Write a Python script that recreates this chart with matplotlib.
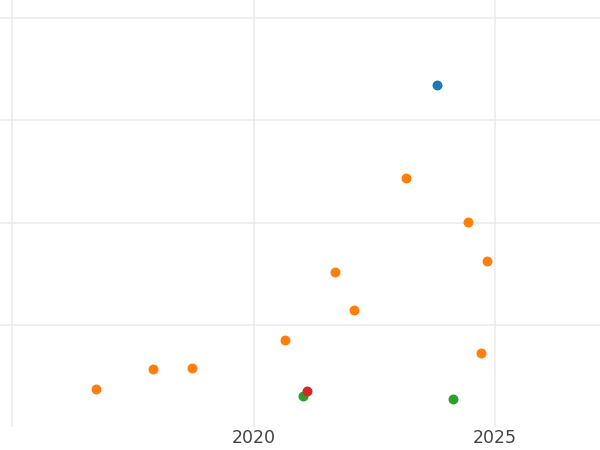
import matplotlib.pyplot as plt

# values (x = year, y = value)
blue_x = [2023.80]
blue_y = [167.3]

orange_x = [2023.16, 2024.44, 2024.83, 2021.69, 2022.08, 2020.65, 2024.71, 2018.73, 2017.92, 2016.74]
orange_y = [121.8, 100.3, 81.3, 75.9, 57.3, 42.7, 36.3, 29.0, 28.5, 18.7]

green_x = [2021.02, 2024.13]
green_y = [15.3, 13.8]

red_x = [2021.11]
red_y = [17.7]

fig = plt.figure(figsize=(6, 4.5), dpi=100)
ax = fig.add_axes([0, 0.0518, 1, 0.9482])

ax.scatter(blue_x, blue_y, s=38, color='#1f77b4', zorder=3)
ax.scatter(orange_x, orange_y, s=38, color='#ff7f0e', zorder=3)
ax.scatter(green_x, green_y, s=38, color='#2ca02c', zorder=3)
ax.scatter(red_x, red_y, s=38, color='#d62728', zorder=3)

ax.set_xlim(2014.75, 2027.17)
ax.set_ylim(0.3, 208.8)
ax.set_xticks([2015, 2020, 2025])
ax.set_xticklabels(['', '2020', '2025'])
ax.set_yticks([50, 100, 150, 200])
ax.set_yticklabels([])
ax.tick_params(length=0, labelsize=12.5, labelcolor='#444444', pad=2)
ax.grid(True, color='#ebebeb', linewidth=1.1)
ax.set_axisbelow(True)
for sp in ax.spines.values():
    sp.set_visible(False)

fig.savefig('out.png', dpi=100)
